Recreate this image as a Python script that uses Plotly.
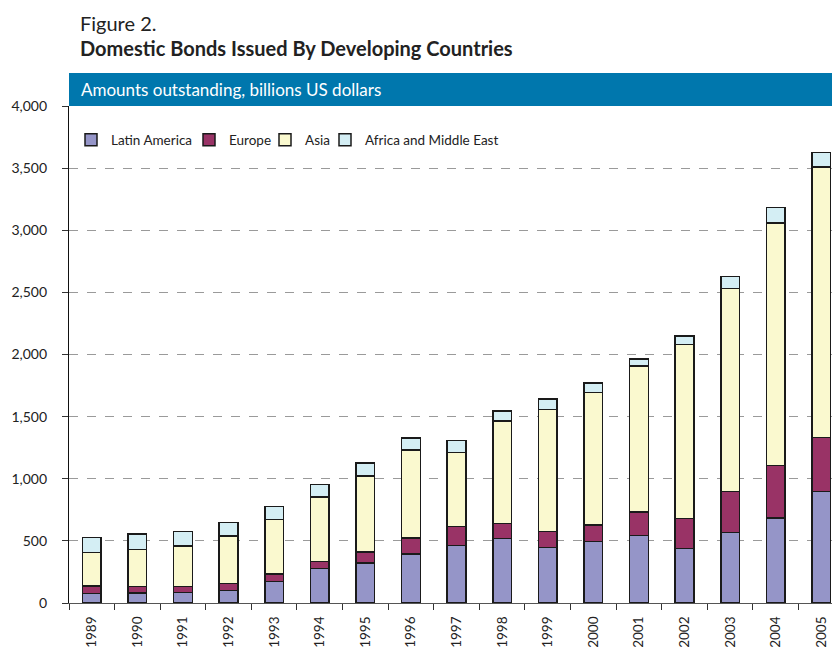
import plotly.graph_objects as go

years = ["1989", "1990", "1991", "1992", "1993", "1994", "1995", "1996", "1997",
         "1998", "1999", "2000", "2001", "2002", "2003", "2004", "2005"]
latin_america = [75, 81, 86, 102, 175, 277, 320, 395, 462, 518, 446, 494, 542, 440, 566, 684, 896]
europe = [62, 51, 48, 54, 59, 59, 91, 129, 153, 121, 128, 134, 191, 239, 330, 422, 435]
asia = [269, 298, 323, 384, 440, 517, 610, 709, 598, 824, 983, 1068, 1173, 1401, 1636, 1952, 2178]
africa_me = [121, 124, 118, 107, 101, 102, 107, 93, 94, 83, 86, 75, 59, 68, 97, 124, 116]

series = [
    ("Latin America", latin_america, "#9595C8"),
    ("Europe", europe, "#993366"),
    ("Asia", asia, "#FAF9CF"),
    ("Africa and Middle East", africa_me, "#D4EEF4"),
]

FONT = "Lato"
OFF = 8  # page body margin
W, H = 840 - OFF, 652 - OFF
L, R, T, B = 69 - OFF, 0, 106 - OFF, 49
ph = H - T - B
pw = W - L - R


def py(px):
    return 1 + (T + OFF - px) / ph


def pxx(px):
    return (px - L - OFF) / pw


# swatch centres in the reference (page px)
legend_centres = [91, 209, 285, 345]

fig = go.Figure()
legend_defs = {}
for i, ((name, vals, col), cx) in enumerate(zip(series, legend_centres)):
    lname = "legend" if i == 0 else f"legend{i + 1}"
    fig.add_trace(go.Bar(
        x=years, y=vals, name=name, legend=lname,
        marker=dict(color=col, line=dict(color="#1a1a1a", width=1.5)),
    ))
    legend_defs[lname] = dict(
        orientation="h", x=pxx(cx - 20), y=py(140), xanchor="left", yanchor="middle",
        font=dict(size=13.5, color="#222", family=FONT),
        bgcolor="rgba(0,0,0,0)",
    )

fig.update_layout(
    width=W, height=H,
    margin=dict(l=L, r=R, t=T, b=B),
    barmode="stack",
    bargap=0.59,
    plot_bgcolor="white",
    paper_bgcolor="white",
    font=dict(family=FONT, size=13.5, color="#222"),
    showlegend=True,
    xaxis=dict(
        type="category", range=[-0.5, 16.41],
        tickangle=-90, tickson="boundaries", ticks="outside", ticklen=6,
        tickcolor="#333", showline=True, linecolor="#555", linewidth=1.2,
        showgrid=False, tickfont=dict(size=13.5, color="#222"),
        ticklabelstandoff=7,
    ),
    yaxis=dict(
        range=[0, 4000], tickvals=[0, 500, 1000, 1500, 2000, 2500, 3000, 3500, 4000],
        tickformat=",", ticks="outside", ticklen=6, tickcolor="#333",
        showline=True, linecolor="#111", linewidth=1.2,
        showgrid=True, gridcolor="#9a9a9a", griddash="dash", gridwidth=1.2,
        zeroline=False, tickfont=dict(size=14, color="#222"),
        ticklabelstandoff=12,
    ),
    shapes=[dict(
        type="rect", xref="paper", yref="paper",
        x0=0, x1=1, y0=1, y1=py(73), fillcolor="#0077AD", line=dict(width=0),
        layer="above",
    )],
    annotations=[
        dict(text="Figure 2.", xref="paper", yref="paper", x=pxx(78), y=py(23),
             xanchor="left", yanchor="middle", showarrow=False,
             font=dict(size=20, color="#222", family=FONT)),
        dict(text="<b>Domestic Bonds Issued By Developing Countries</b>", xref="paper", yref="paper",
             x=pxx(78), y=py(48), xanchor="left", yanchor="middle", showarrow=False,
             font=dict(size=20, color="#222", family=FONT)),
        dict(text="Amounts outstanding, billions US dollars", xref="paper", yref="paper",
             x=pxx(79), y=py(89), xanchor="left", yanchor="middle", showarrow=False,
             font=dict(size=17, color="white", family=FONT)),
    ],
    **legend_defs,
)

fig.write_html("out.html")
